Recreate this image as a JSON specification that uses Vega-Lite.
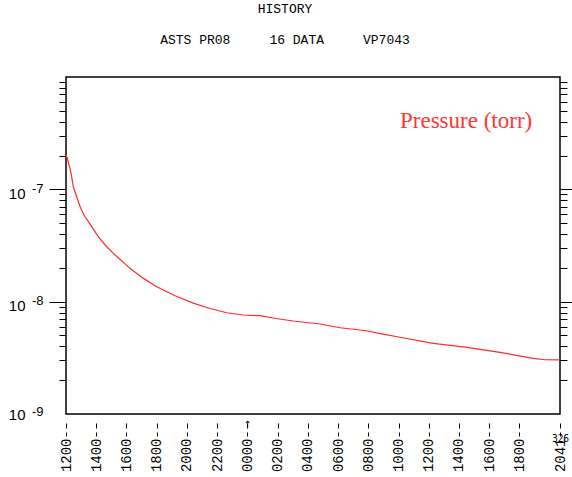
{
  "$schema": "https://vega.github.io/schema/vega-lite/v6.json",
  "autosize": {"type": "none"},
  "width": 494,
  "height": 337,
  "padding": {"left": 66, "top": 77, "right": 12, "bottom": 63},
  "background": "white",
  "config": {"view": {"stroke": "black", "strokeWidth": 1.5}},
  "title": {
    "text": "HISTORY\u00a0\u00a0",
    "subtitle": "ASTS PR08\u00a0\u00a0\u00a0\u00a0\u00a016 DATA\u00a0\u00a0\u00a0\u00a0\u00a0VP7043",
    "font": "Liberation Mono",
    "fontSize": 13,
    "fontWeight": "normal",
    "subtitleFont": "Liberation Mono",
    "subtitleFontSize": 13,
    "color": "black",
    "subtitleColor": "black",
    "anchor": "middle",
    "dx": -28,
    "offset": 30,
    "subtitlePadding": 18
  },
  "data": {
    "values": [
      {"t": "2023-11-21T12:00:00Z", "p": 2.02e-7, "series": "Pressure (torr)"},
      {"t": "2023-11-21T12:05:00Z", "p": 1.90e-7, "series": "Pressure (torr)"},
      {"t": "2023-11-21T12:10:00Z", "p": 1.71e-7, "series": "Pressure (torr)"},
      {"t": "2023-11-21T12:16:00Z", "p": 1.54e-7, "series": "Pressure (torr)"},
      {"t": "2023-11-21T12:22:00Z", "p": 1.31e-7, "series": "Pressure (torr)"},
      {"t": "2023-11-21T12:29:00Z", "p": 1.05e-7, "series": "Pressure (torr)"},
      {"t": "2023-11-21T12:40:00Z", "p": 8.9e-8, "series": "Pressure (torr)"},
      {"t": "2023-11-21T12:56:00Z", "p": 7.0e-8, "series": "Pressure (torr)"},
      {"t": "2023-11-21T13:11:00Z", "p": 5.9e-8, "series": "Pressure (torr)"},
      {"t": "2023-11-21T13:29:00Z", "p": 5.15e-8, "series": "Pressure (torr)"},
      {"t": "2023-11-21T14:08:00Z", "p": 3.79e-8, "series": "Pressure (torr)"},
      {"t": "2023-11-21T14:39:00Z", "p": 3.13e-8, "series": "Pressure (torr)"},
      {"t": "2023-11-21T15:15:00Z", "p": 2.60e-8, "series": "Pressure (torr)"},
      {"t": "2023-11-21T16:14:00Z", "p": 1.98e-8, "series": "Pressure (torr)"},
      {"t": "2023-11-21T17:06:00Z", "p": 1.62e-8, "series": "Pressure (torr)"},
      {"t": "2023-11-21T18:00:00Z", "p": 1.36e-8, "series": "Pressure (torr)"},
      {"t": "2023-11-21T19:13:00Z", "p": 1.13e-8, "series": "Pressure (torr)"},
      {"t": "2023-11-21T20:25:00Z", "p": 9.7e-9, "series": "Pressure (torr)"},
      {"t": "2023-11-21T21:32:00Z", "p": 8.7e-9, "series": "Pressure (torr)"},
      {"t": "2023-11-21T22:38:00Z", "p": 7.97e-9, "series": "Pressure (torr)"},
      {"t": "2023-11-21T23:43:00Z", "p": 7.61e-9, "series": "Pressure (torr)"},
      {"t": "2023-11-22T00:50:00Z", "p": 7.5e-9, "series": "Pressure (torr)"},
      {"t": "2023-11-22T01:53:00Z", "p": 7.08e-9, "series": "Pressure (torr)"},
      {"t": "2023-11-22T03:02:00Z", "p": 6.73e-9, "series": "Pressure (torr)"},
      {"t": "2023-11-22T04:48:00Z", "p": 6.33e-9, "series": "Pressure (torr)"},
      {"t": "2023-11-22T06:08:00Z", "p": 5.86e-9, "series": "Pressure (torr)"},
      {"t": "2023-11-22T07:53:00Z", "p": 5.51e-9, "series": "Pressure (torr)"},
      {"t": "2023-11-22T08:58:00Z", "p": 5.15e-9, "series": "Pressure (torr)"},
      {"t": "2023-11-22T10:06:00Z", "p": 4.82e-9, "series": "Pressure (torr)"},
      {"t": "2023-11-22T12:18:00Z", "p": 4.26e-9, "series": "Pressure (torr)"},
      {"t": "2023-11-22T14:31:00Z", "p": 3.92e-9, "series": "Pressure (torr)"},
      {"t": "2023-11-22T16:43:00Z", "p": 3.54e-9, "series": "Pressure (torr)"},
      {"t": "2023-11-22T18:55:00Z", "p": 3.13e-9, "series": "Pressure (torr)"},
      {"t": "2023-11-22T19:41:00Z", "p": 3.04e-9, "series": "Pressure (torr)"},
      {"t": "2023-11-22T20:41:00Z", "p": 3.03e-9, "series": "Pressure (torr)"}
    ]
  },
  "resolve": {"axis": {"x": "independent", "y": "independent"}},
  "layer": [
    {
      "mark": {"type": "line", "strokeWidth": 1.2},
      "encoding": {
        "x": {
          "field": "t", "type": "temporal",
          "scale": {"type": "utc", "domain": [{"year": 2023, "month": 11, "date": 21, "hours": 12, "utc": true}, {"year": 2023, "month": 11, "date": 22, "hours": 20, "minutes": 41, "utc": true}]},
          "axis": {
            "orient": "bottom", "title": null, "domain": false, "grid": false, "offset": 9,
            "values": [
              {"year": 2023, "month": 11, "date": 21, "hours": 12, "utc": true},
              {"year": 2023, "month": 11, "date": 21, "hours": 14, "utc": true},
              {"year": 2023, "month": 11, "date": 21, "hours": 16, "utc": true},
              {"year": 2023, "month": 11, "date": 21, "hours": 18, "utc": true},
              {"year": 2023, "month": 11, "date": 21, "hours": 20, "utc": true},
              {"year": 2023, "month": 11, "date": 21, "hours": 22, "utc": true},
              {"year": 2023, "month": 11, "date": 22, "hours": 0, "utc": true},
              {"year": 2023, "month": 11, "date": 22, "hours": 2, "utc": true},
              {"year": 2023, "month": 11, "date": 22, "hours": 4, "utc": true},
              {"year": 2023, "month": 11, "date": 22, "hours": 6, "utc": true},
              {"year": 2023, "month": 11, "date": 22, "hours": 8, "utc": true},
              {"year": 2023, "month": 11, "date": 22, "hours": 10, "utc": true},
              {"year": 2023, "month": 11, "date": 22, "hours": 12, "utc": true},
              {"year": 2023, "month": 11, "date": 22, "hours": 14, "utc": true},
              {"year": 2023, "month": 11, "date": 22, "hours": 16, "utc": true},
              {"year": 2023, "month": 11, "date": 22, "hours": 18, "utc": true},
              {"year": 2023, "month": 11, "date": 22, "hours": 20, "minutes": 41, "utc": true}
            ],
            "labelExpr": "utcFormat(datum.value, '%H%M')",
            "labelAngle": -90, "labelAlign": "right", "labelBaseline": "middle",
            "labelFont": "Liberation Mono", "labelFontSize": 14, "labelColor": "black",
            "labelPadding": 2, "labelOverlap": false, "labelFlush": false, "labelBound": false,
            "tickSize": 13, "tickDash": [5, 4], "tickColor": "black", "tickWidth": 1
          }
        },
        "y": {
          "field": "p", "type": "quantitative",
          "scale": {"type": "log", "domain": [1e-9, 1e-6], "nice": false},
          "axis": {
            "orient": "left", "title": null, "domain": false, "grid": false, "ticks": false,
            "values": [1e-9, 1e-8, 1e-7],
            "labelExpr": "'10'",
            "labelFont": "Liberation Sans", "labelFontSize": 15, "labelColor": "black",
            "labelAlign": "right", "labelBaseline": "middle", "labelPadding": 41,
            "labelOffset": {"condition": {"test": "datum.value < 2e-9", "value": 0}, "value": 4},
            "labelOverlap": false, "labelFlush": false, "labelBound": false
          }
        },
        "color": {
          "field": "series", "type": "nominal",
          "scale": {"range": ["#ff2a2a"]},
          "legend": {
            "orient": "none", "legendX": 311, "legendY": 32, "title": null, "padding": 0,
            "symbolSize": 0, "symbolOpacity": 0, "symbolStrokeWidth": 0, "labelOffset": 0,
            "labelFont": "Liberation Serif", "labelFontSize": 23, "labelColor": "#ff3535", "labelLimit": 0
          }
        }
      }
    },
    {
      "mark": {"type": "line", "opacity": 0},
      "encoding": {
        "x": {"field": "t", "type": "temporal", "axis": null},
        "y": {
          "field": "p", "type": "quantitative",
          "scale": {"type": "log", "domain": [1e-9, 1e-6], "nice": false},
          "axis": {
            "orient": "left", "title": null, "domain": false, "grid": false, "ticks": false,
            "values": [1e-9, 1e-8, 1e-7],
            "labelExpr": "'-' + round(-log(datum.value) / LN10)",
            "labelFont": "Liberation Sans", "labelFontSize": 13, "labelColor": "black",
            "labelAlign": "right", "labelBaseline": "middle", "labelPadding": 23,
            "labelOffset": {"condition": {"test": "datum.value < 2e-9", "value": -2.5}, "value": -1},
            "labelOverlap": false, "labelFlush": false, "labelBound": false
          }
        }
      }
    },
    {
      "mark": {"type": "line", "opacity": 0},
      "encoding": {
        "x": {"field": "t", "type": "temporal", "axis": null},
        "y": {
          "field": "p", "type": "quantitative",
          "scale": {"type": "log", "domain": [1e-9, 1e-6], "nice": false},
          "axis": {
            "orient": "left", "title": null, "domain": false, "grid": false, "labels": false,
            "values": [1e-8, 1e-7], "tickSize": 17, "tickColor": "black", "tickWidth": 1
          }
        }
      }
    },
    {
      "mark": {"type": "line", "opacity": 0},
      "encoding": {
        "x": {"field": "t", "type": "temporal", "axis": null},
        "y": {
          "field": "p", "type": "quantitative",
          "scale": {"type": "log", "domain": [1e-9, 1e-6], "nice": false},
          "axis": {
            "orient": "left", "title": null, "domain": false, "grid": false, "labels": false,
            "values": [2e-9, 3e-9, 4e-9, 5e-9, 6e-9, 7e-9, 8e-9, 9e-9, 2e-8, 3e-8, 4e-8, 5e-8, 6e-8, 7e-8, 8e-8, 9e-8, 2e-7, 3e-7, 4e-7, 5e-7, 6e-7, 7e-7, 8e-7, 9e-7],
            "tickSize": 7, "tickColor": "black", "tickWidth": 1
          }
        }
      }
    },
    {
      "mark": {"type": "line", "opacity": 0},
      "encoding": {
        "x": {"field": "t", "type": "temporal", "axis": null},
        "y": {
          "field": "p", "type": "quantitative",
          "scale": {"type": "log", "domain": [1e-9, 1e-6], "nice": false},
          "axis": {
            "orient": "right", "title": null, "domain": false, "grid": false, "labels": false,
            "values": [1e-8, 1e-7], "tickSize": 17, "tickColor": "black", "tickWidth": 1
          }
        }
      }
    },
    {
      "mark": {"type": "line", "opacity": 0},
      "encoding": {
        "x": {"field": "t", "type": "temporal", "axis": null},
        "y": {
          "field": "p", "type": "quantitative",
          "scale": {"type": "log", "domain": [1e-9, 1e-6], "nice": false},
          "axis": {
            "orient": "right", "title": null, "domain": false, "grid": false, "labels": false,
            "values": [2e-9, 3e-9, 4e-9, 5e-9, 6e-9, 7e-9, 8e-9, 9e-9, 2e-8, 3e-8, 4e-8, 5e-8, 6e-8, 7e-8, 8e-8, 9e-8, 2e-7, 3e-7, 4e-7, 5e-7, 6e-7, 7e-7, 8e-7, 9e-7],
            "tickSize": 7, "tickColor": "black", "tickWidth": 1
          }
        }
      }
    },
    {
      "mark": {"type": "line", "opacity": 0},
      "encoding": {
        "x": {
          "field": "t", "type": "temporal",
          "scale": {"type": "utc", "domain": [{"year": 2023, "month": 11, "date": 21, "hours": 12, "utc": true}, {"year": 2023, "month": 11, "date": 22, "hours": 20, "minutes": 41, "utc": true}]},
          "axis": {
            "orient": "bottom", "title": null, "domain": false, "grid": false, "ticks": false,
            "values": [
              {"year": 2023, "month": 11, "date": 22, "hours": 0, "utc": true},
              {"year": 2023, "month": 11, "date": 22, "hours": 20, "minutes": 41, "utc": true}
            ],
            "labelExpr": "utchours(datum.value) == 0 ? '↑' : '326'",
            "labelAngle": 0, "labelAlign": "center", "labelBaseline": "top",
            "labelFont": "DejaVu Sans Condensed", "labelFontSize": 10, "labelColor": "black",
            "labelPadding": {"condition": {"test": "utchours(datum.value) == 0", "value": 5}, "value": 19},
            "labelOverlap": false, "labelFlush": false, "labelBound": false
          }
        },
        "y": {
          "field": "p", "type": "quantitative",
          "scale": {"type": "log", "domain": [1e-9, 1e-6], "nice": false},
          "axis": null
        }
      }
    }
  ]
}
